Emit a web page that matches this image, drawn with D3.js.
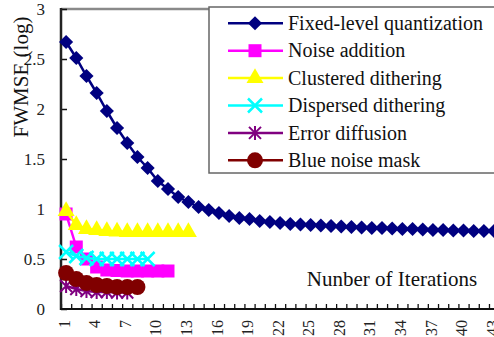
<!DOCTYPE html>
<html>
<head>
<meta charset="utf-8">
<script src="https://cdn.jsdelivr.net/npm/d3@7"></script>
<style>
    body { margin: 0; background: #fff; }
    svg { display: block; }
</style>
</head>
<body>
<div id="d3-container"></div>
<script>
// Data
var iterations = d3.range(1, 45);
var xTickLabels = d3.range(1, 44, 3);
var yTicks = [0, 0.5, 1, 1.5, 2, 2.5, 3];

var fixedLevel = [2.67, 2.51, 2.33, 2.16, 1.98, 1.81, 1.66, 1.52, 1.41, 1.28, 1.20, 1.12, 1.07, 1.02,
    0.99, 0.96, 0.93, 0.91, 0.90, 0.88, 0.87, 0.86, 0.85, 0.845, 0.84, 0.835, 0.83, 0.825, 0.82,
    0.815, 0.81, 0.81, 0.805, 0.80, 0.80, 0.795, 0.79, 0.79, 0.785, 0.785, 0.78, 0.78, 0.78, 0.775];
var noiseAddition = [0.95, 0.62, 0.50, 0.42, 0.39, 0.385, 0.38, 0.38, 0.38, 0.38, 0.38];
var clusteredDithering = [0.98, 0.84, 0.80, 0.79, 0.78, 0.775, 0.77, 0.77, 0.77, 0.77, 0.77, 0.77, 0.77];
var dispersedDithering = [0.57, 0.53, 0.51, 0.50, 0.50, 0.50, 0.50, 0.50, 0.50];
var errorDiffusion = [0.23, 0.20, 0.18, 0.17, 0.17, 0.165, 0.165];
var blueNoiseMask = [0.36, 0.30, 0.26, 0.24, 0.23, 0.22, 0.22, 0.22];

var seriesNames = ["Fixed-level quantization", "Noise addition", "Clustered dithering",
    "Dispersed dithering", "Error diffusion", "Blue noise mask"];

var series = [
    { name: seriesNames[0], values: fixedLevel, color: "#000080", marker: "diamond" },
    { name: seriesNames[1], values: noiseAddition, color: "#ff00ff", marker: "square" },
    { name: seriesNames[2], values: clusteredDithering, color: "#ffff00", marker: "triangle" },
    { name: seriesNames[3], values: dispersedDithering, color: "#00ffff", marker: "x" },
    { name: seriesNames[4], values: errorDiffusion, color: "#800080", marker: "star" },
    { name: seriesNames[5], values: blueNoiseMask, color: "#800000", marker: "circle" }
];

var width = 494, height = 337;
var serif = "Liberation Serif";

// Plot area
var plot = { left: 61, top: 9, bottom: 309, step: 10.19 };

var svg = d3.select("#d3-container").append("svg")
    .attr("width", width)
    .attr("height", height);

var x = d3.scaleLinear()
    .domain([0.5, iterations.length + 0.5])
    .range([plot.left, plot.left + iterations.length * plot.step]);

var y = d3.scaleLinear()
    .domain([0, 3])
    .range([plot.bottom, plot.top]);

// Top border of the plot area
svg.append("line")
    .attr("x1", plot.left).attr("x2", width + 10)
    .attr("y1", plot.top).attr("y2", plot.top)
    .attr("stroke", "#8a8a8a")
    .attr("stroke-width", 2.5);

// Y axis, ticks pointing inside
var yAxis = d3.axisLeft(y)
    .tickValues(yTicks)
    .tickSize(-6)
    .tickPadding(16)
    .tickFormat(d3.format("~g"));

var yAxisG = svg.append("g")
    .attr("transform", "translate(" + plot.left + ",0)")
    .call(yAxis);
yAxisG.select(".domain").remove();
yAxisG.selectAll(".tick line").attr("stroke", "#111").attr("stroke-width", 1.5);
yAxisG.selectAll(".tick text")
    .style("font-family", serif)
    .style("font-size", "17px")
    .attr("fill", "#222");

// X axis: tick marks on category boundaries
var xTickAxis = d3.axisBottom(x)
    .tickValues(d3.range(0.5, iterations.length + 1, 1))
    .tickSize(-5)
    .tickFormat("");

var xAxisG = svg.append("g")
    .attr("transform", "translate(0," + plot.bottom + ")")
    .call(xTickAxis);
xAxisG.select(".domain").remove();
xAxisG.selectAll(".tick line").attr("stroke", "#111").attr("stroke-width", 1.3);

// X labels, rotated
svg.append("g")
    .selectAll("text")
    .data(xTickLabels)
    .join("text")
    .attr("transform", function(d) { return "translate(" + (x(d) - 2) + ",320) rotate(-90)"; })
    .attr("text-anchor", "end")
    .attr("dy", "0.35em")
    .style("font-family", serif)
    .style("font-size", "16px")
    .attr("fill", "#222")
    .text(function(d) { return d; });

// Axis lines
svg.append("line")
    .attr("x1", plot.left).attr("x2", plot.left)
    .attr("y1", plot.top - 1).attr("y2", plot.bottom + 1)
    .attr("stroke", "#222").attr("stroke-width", 2.5);
svg.append("line")
    .attr("x1", plot.left - 1).attr("x2", width + 10)
    .attr("y1", plot.bottom).attr("y2", plot.bottom)
    .attr("stroke", "#111").attr("stroke-width", 2);

// Marker drawing
var addMarker = function(parent, type, cx, cy, color) {
    var g = parent.append("g").attr("transform", "translate(" + cx + "," + cy + ")");
    if (type === "diamond") {
        g.append("path").attr("d", d3.symbol(d3.symbolSquare, 100)())
            .attr("transform", "rotate(45)").attr("fill", color);
    } else if (type === "square") {
        g.append("path").attr("d", d3.symbol(d3.symbolSquare, 169)()).attr("fill", color);
    } else if (type === "triangle") {
        g.append("path").attr("d", d3.symbol(d3.symbolTriangle, 125)()).attr("fill", color);
    } else if (type === "circle") {
        g.append("circle").attr("r", 8).attr("fill", color);
    } else if (type === "x") {
        g.append("path").attr("d", "M-7,-7L7,7M-7,7L7,-7")
            .attr("stroke", color).attr("stroke-width", 2.5).attr("fill", "none");
    } else if (type === "star") {
        g.append("path").attr("d", "M-6,-6L6,6M-6,6L6,-6M0,-7L0,7")
            .attr("stroke", color).attr("stroke-width", 2).attr("fill", "none");
    }
    return g;
};

// Series
var line = d3.line()
    .x(function(d, i) { return x(i + 1); })
    .y(function(d) { return y(d); });

var seriesG = svg.append("g");
series.forEach(function(s) {
    var g = seriesG.append("g");
    g.append("path")
        .datum(s.values)
        .attr("d", line)
        .attr("fill", "none")
        .attr("stroke", s.color)
        .attr("stroke-width", 2.5);
    s.values.forEach(function(v, i) {
        addMarker(g, s.marker, x(i + 1), y(v), s.color);
    });
});

// Axis titles
svg.append("text")
    .attr("transform", "translate(28,77) rotate(-90)")
    .attr("text-anchor", "middle")
    .style("font-family", serif)
    .style("font-size", "21px")
    .attr("fill", "#111")
    .text("FWMSE (log)");

svg.append("text")
    .attr("x", 392)
    .attr("y", 286)
    .attr("text-anchor", "middle")
    .style("font-family", serif)
    .style("font-size", "21px")
    .attr("fill", "#111")
    .text("Nunber of Iterations");

// Legend
var legend = svg.append("g").attr("transform", "translate(209,7)");
legend.append("rect")
    .attr("x", 0).attr("y", 0)
    .attr("width", 300).attr("height", 166)
    .attr("fill", "#fff")
    .attr("stroke", "#666")
    .attr("stroke-width", 1.5);

series.forEach(function(s, i) {
    var rowY = 16.3 + i * 27.4;
    var row = legend.append("g");
    row.append("line")
        .attr("x1", 19).attr("x2", 74)
        .attr("y1", rowY).attr("y2", rowY)
        .attr("stroke", s.color)
        .attr("stroke-width", 2.5);
    addMarker(row, s.marker, 46, rowY, s.color);
    row.append("text")
        .attr("x", 79)
        .attr("y", rowY + 6.7)
        .style("font-family", serif)
        .style("font-size", "20px")
        .attr("fill", "#111")
        .text(s.name);
});
</script>
</body>
</html>
